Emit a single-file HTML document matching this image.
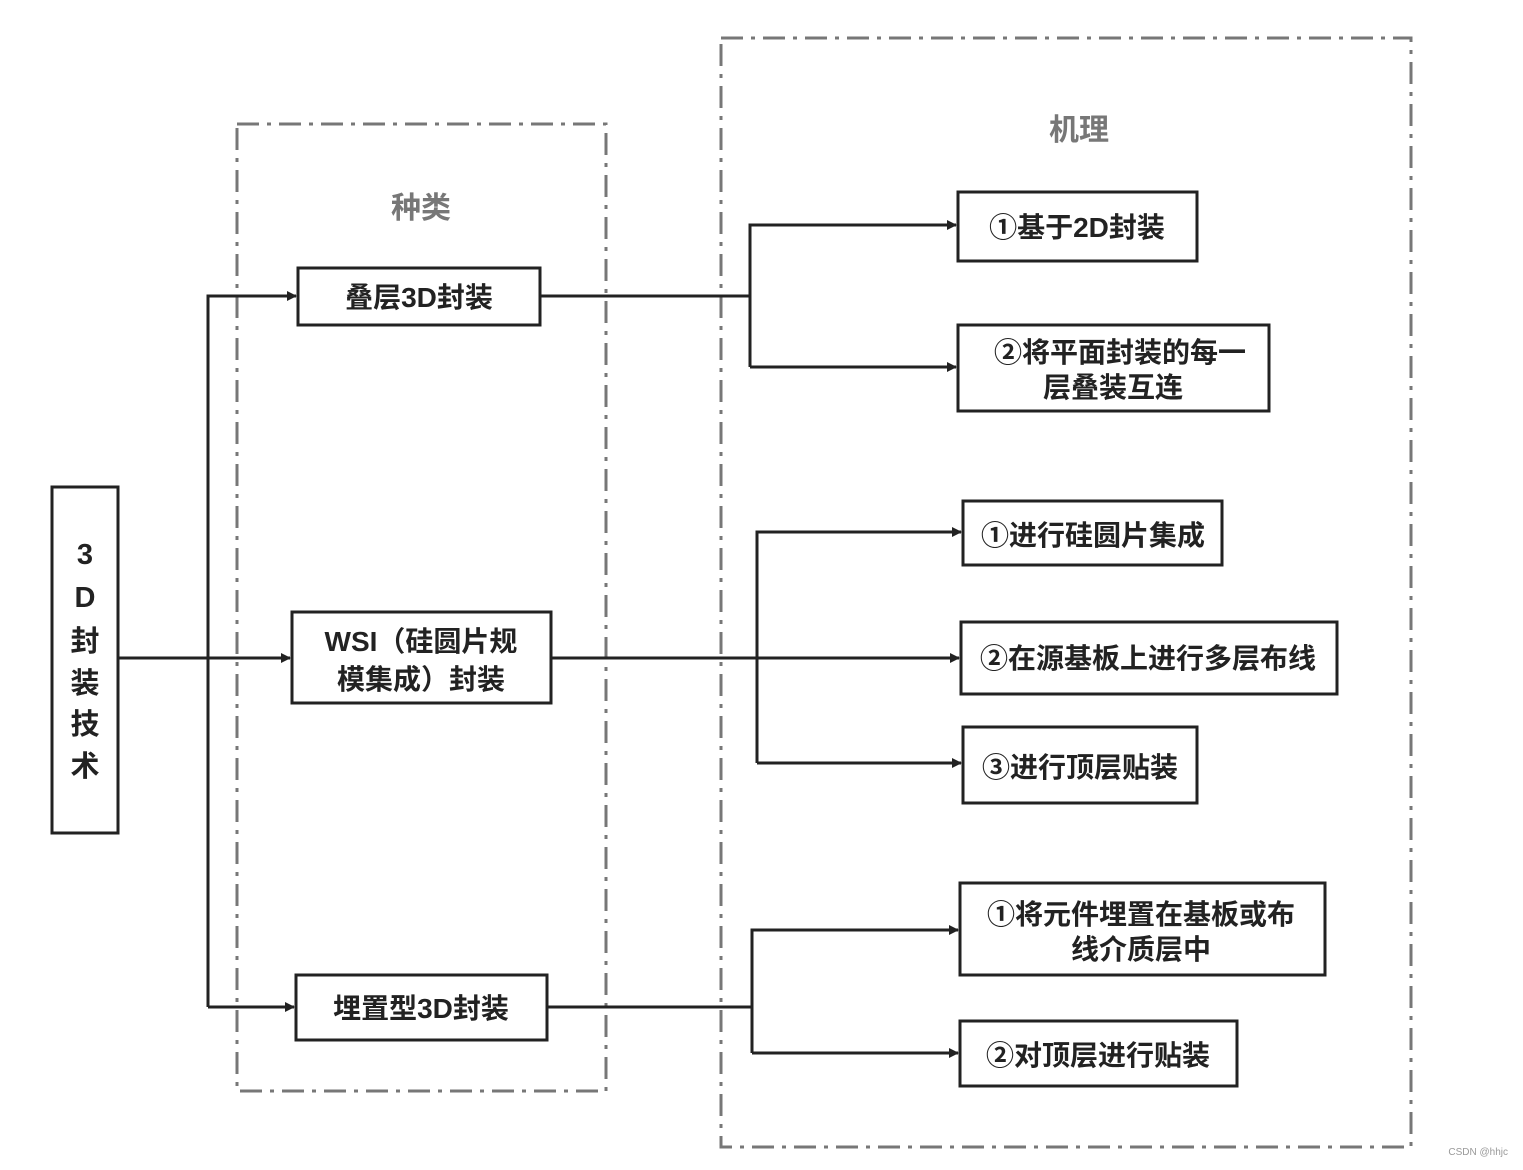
<!DOCTYPE html>
<html><head><meta charset="utf-8"><style>
html,body{margin:0;padding:0;background:#fff;}
svg text{font-family:"Liberation Sans","Noto Sans CJK SC",sans-serif;font-weight:bold;}
</style></head><body>
<svg width="1523" height="1165" viewBox="0 0 1523 1165" xmlns="http://www.w3.org/2000/svg">
<defs><marker id="a" markerWidth="10" markerHeight="10" refX="9" refY="5" orient="auto" markerUnits="userSpaceOnUse"><path d="M0,0 L10,5 L0,10 z" fill="#222"/></marker></defs>
<g fill="none" stroke="#777" stroke-width="3" stroke-dasharray="22,8,4,8">
<rect x="237" y="124" width="369" height="967"/>
<rect x="721" y="38" width="690" height="1109"/>
</g>
<g fill="#777" font-size="30" text-anchor="middle">
<text x="421" y="218">种类</text>
<text x="1079" y="140">机理</text>
</g>
<g fill="none" stroke="#222" stroke-width="3">
<rect x="52" y="487" width="66" height="346"/>
<rect x="298" y="268" width="242" height="57"/>
<rect x="292" y="612" width="259" height="91"/>
<rect x="296" y="975" width="251" height="65"/>
<rect x="958" y="192" width="239" height="69"/>
<rect x="958" y="325" width="311" height="86"/>
<rect x="963" y="501" width="259" height="64"/>
<rect x="961" y="622" width="376" height="72"/>
<rect x="963" y="727" width="234" height="76"/>
<rect x="960" y="883" width="365" height="92"/>
<rect x="960" y="1021" width="277" height="65"/>
</g>
<g fill="none" stroke="#222" stroke-width="3">
<path d="M118,658 H290" marker-end="url(#a)"/>
<path d="M208,1007 V296 H296" marker-end="url(#a)"/>
<path d="M208,1007 H294" marker-end="url(#a)"/>
<path d="M540,296 H750"/>
<path d="M750,367 V225 H956" marker-end="url(#a)"/>
<path d="M750,367 H956" marker-end="url(#a)"/>
<path d="M551,658 H959" marker-end="url(#a)"/>
<path d="M757,763 V532 H961" marker-end="url(#a)"/>
<path d="M757,763 H961" marker-end="url(#a)"/>
<path d="M547,1007 H752"/>
<path d="M752,1053 V930 H958" marker-end="url(#a)"/>
<path d="M752,1053 H958" marker-end="url(#a)"/>
</g>
<g fill="#222" font-size="29" text-anchor="middle">
<text x="85" y="564">3</text>
<text x="85" y="607">D</text>
<text x="85" y="651">封</text>
<text x="85" y="693">装</text>
<text x="85" y="734">技</text>
<text x="85" y="776">术</text>
</g>
<g fill="#222" font-size="28" text-anchor="middle">
<text x="419" y="307">叠层3D封装</text>
<text x="421" y="651">WSI（硅圆片规</text>
<text x="421" y="689">模集成）封装</text>
<text x="421" y="1018">埋置型3D封装</text>
<text x="1077" y="237">①基于2D封装</text>
<text x="1120" y="362">②将平面封装的每一</text>
<text x="1113" y="397">层叠装互连</text>
<text x="1093" y="545">①进行硅圆片集成</text>
<text x="1148" y="668">②在源基板上进行多层布线</text>
<text x="1080" y="777">③进行顶层贴装</text>
<text x="1141" y="924">①将元件埋置在基板或布</text>
<text x="1141" y="959">线介质层中</text>
<text x="1098" y="1065">②对顶层进行贴装</text>
</g>
<text x="1508" y="1155" font-size="10" fill="#999" text-anchor="end" style="font-weight:normal">CSDN @hhjc</text>
</svg>
</body></html>
